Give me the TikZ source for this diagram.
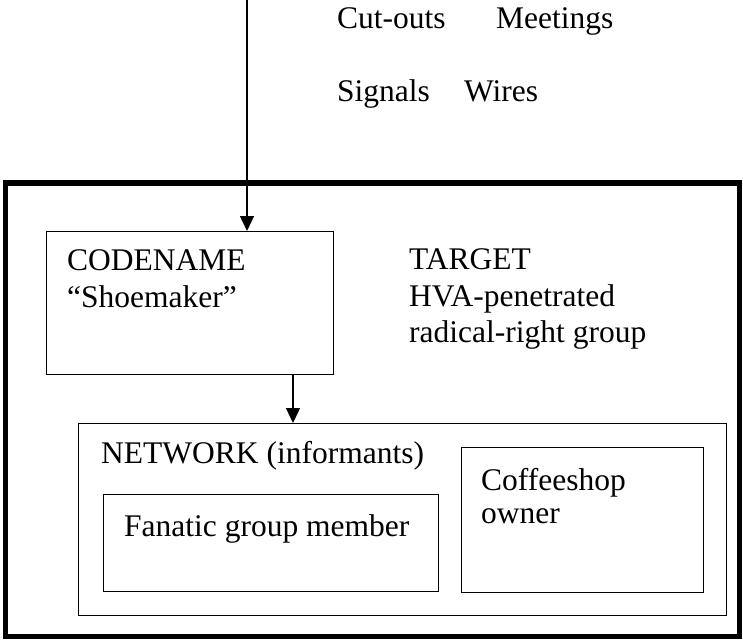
\documentclass[tikz,border=0pt]{standalone}
\usepackage{fontspec}
\setmainfont{Liberation Serif}
\usetikzlibrary{arrows.meta}
\begin{document}
\begin{tikzpicture}[x=1pt,y=-1pt,
  thin box/.style={draw, line width=1.3pt},
  label text/.style={anchor=base west, inner sep=0pt, font=\fontsize{31.5}{37}\selectfont},
  conn/.style={line width=1.3pt, -{Triangle[length=15pt,width=14pt]}}]
\useasboundingbox (0,0) rectangle (743,639);
% outer thick frame
\draw[line width=5.5pt] (5.5,183) rectangle (739.5,636.5);
% boxes
\node[thin box, minimum width=287pt, minimum height=143pt, anchor=north west, inner sep=0pt] (code) at (46,231) {};
\node[thin box, minimum width=648pt, minimum height=192pt, anchor=north west, inner sep=0pt] (net) at (78,423) {};
\node[thin box, minimum width=335pt, minimum height=97pt, anchor=north west, inner sep=0pt] (fan) at (103,494) {};
\node[thin box, minimum width=242pt, minimum height=145pt, anchor=north west, inner sep=0pt] (cof) at (461,447) {};
% texts
\node[label text] (t1) at (337,29) {Cut-outs};
\node[label text] (t2) at (496,29) {Meetings};
\node[label text] (t3) at (337,102) {Signals};
\node[label text] (t4) at (464,102) {Wires};
\node[label text] (c1) at (67,270) {CODENAME};
\node[label text] (c2) at (67,307) {“Shoemaker”};
\node[label text] (g1) at (409,269) {TARGET};
\node[label text] (g2) at (409,306) {HVA-penetrated};
\node[label text] (g3) at (409,342) {radical-right group};
\node[label text] (n1) at (101,463) {NETWORK (informants)};
\node[label text] (f1) at (124,536) {Fanatic group member};
\node[label text] (o1) at (481,490) {Coffeeshop};
\node[label text] (o2) at (481,523) {owner};
% connectors
\coordinate (top) at (247,0);
\coordinate (mid) at (293,0);
\draw[conn] (top) -- (top |- code.north);
\draw[conn] (mid |- code.south) -- (mid |- net.north);
\end{tikzpicture}
\end{document}
